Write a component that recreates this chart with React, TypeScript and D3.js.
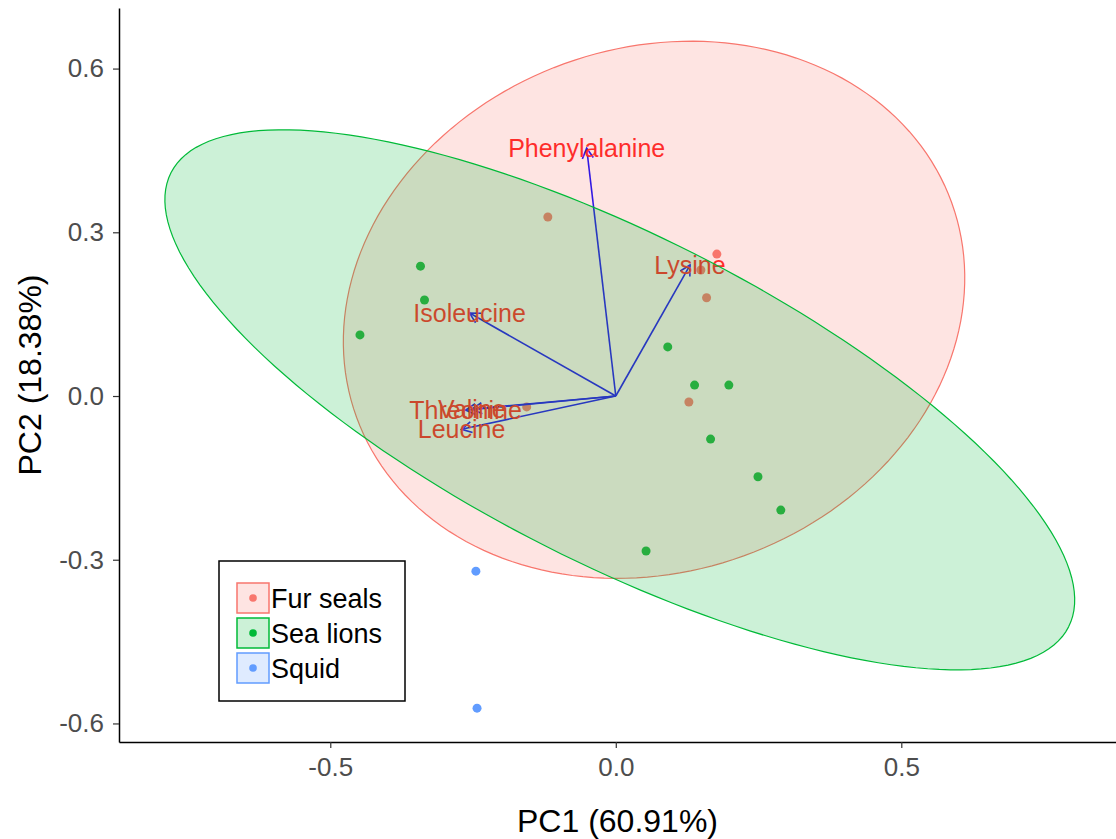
import React, { useEffect, useRef } from "react";
import * as d3 from "d3";

// group scores (PC1, PC2)
const furSealsX = [-0.119, 0.177, 0.149, 0.159, 0.128, -0.156];
const furSealsY = [0.328, 0.26, 0.231, 0.18, -0.011, -0.02];
const seaLionsX = [-0.342, -0.335, -0.448, 0.091, 0.138, 0.198, 0.166, 0.249, 0.289, 0.053];
const seaLionsY = [0.238, 0.176, 0.112, 0.09, 0.02, 0.02, -0.079, -0.148, -0.209, -0.284];
const squidX = [-0.245, -0.243];
const squidY = [-0.321, -0.572];

// variable loadings
const varNames = ["Phenylalanine", "Lysine", "Isoleucine", "Threonine", "Valine", "Leucine"];
const varX = [-0.051, 0.13, -0.256, -0.263, -0.252, -0.27];
const varY = [0.454, 0.24, 0.152, -0.026, -0.024, -0.061];

// ellipses: centre, major semi-axis vector, minor semi-axis vector (data units)
const ellipseGroups = ["Fur seals", "Sea lions"];
const ellipseCenter = [[0.067, 0.158], [0.007, -0.007]];
const ellipseMajor = [[0.521, 0.197], [0.786, -0.416]];
const ellipseMinor = [[0.157, -0.451], [-0.13, -0.268]];

const groups = ["Fur seals", "Sea lions", "Squid"];
const groupColors = ["#F8766D", "#00BA38", "#619CFF"];

const xTicks = [-0.5, 0, 0.5];
const yTicks = [-0.6, -0.3, 0, 0.3, 0.6];

const App = () => {
    const svgRef = useRef(null);

    useEffect(() => {
        const svg = d3.select(svgRef.current);
        svg.selectAll("*").remove();

        const width = 1116, height = 839;
        const margin = { top: 8, right: 0, bottom: 97, left: 119 };
        const font = "'Liberation Sans', Arial, sans-serif";
        const arrowCol = "#0000ff";

        const x = d3.scaleLinear().domain([-0.87, 0.876]).range([margin.left, width - margin.right]);
        const y = d3.scaleLinear().domain([-0.634, 0.711]).range([height - margin.bottom, margin.top]);

        svg.append("defs").append("marker")
            .attr("id", "arr")
            .attr("markerUnits", "userSpaceOnUse")
            .attr("markerWidth", 20).attr("markerHeight", 20)
            .attr("refX", 10).attr("refY", 10)
            .attr("orient", "auto")
            .style("overflow", "visible")
            .append("path")
            .attr("d", "M0,4.5L10,10L0,15.5")
            .attr("fill", "none")
            .attr("stroke", arrowCol)
            .attr("stroke-width", 1.6);

        // points
        const pts = [
            { xs: furSealsX, ys: furSealsY },
            { xs: seaLionsX, ys: seaLionsY },
            { xs: squidX, ys: squidY },
        ];
        pts.forEach((g, gi) => {
            svg.append("g").selectAll("circle")
                .data(g.xs.map((v, i) => [v, g.ys[i]]))
                .enter().append("circle")
                .attr("cx", d => x(d[0]))
                .attr("cy", d => y(d[1]))
                .attr("r", 4.5)
                .attr("fill", groupColors[gi]);
        });

        // arrows
        svg.append("g").selectAll("line")
            .data(varNames.map((n, i) => [varX[i], varY[i]]))
            .enter().append("line")
            .attr("x1", x(0)).attr("y1", y(0))
            .attr("x2", d => x(d[0])).attr("y2", d => y(d[1]))
            .attr("stroke", arrowCol)
            .attr("stroke-width", 1.6)
            .attr("marker-end", "url(#arr)");

        // variable labels
        svg.append("g").selectAll("text")
            .data(varNames.map((n, i) => ({ n, vx: varX[i], vy: varY[i] })))
            .enter().append("text")
            .attr("x", d => x(d.vx))
            .attr("y", d => y(d.vy) + 9)
            .attr("text-anchor", "middle")
            .attr("font-family", font)
            .attr("font-size", 25)
            .attr("fill", "#ff1a1a")
            .text(d => d.n);

        // ellipses drawn on top
        const ts = d3.range(0, 2 * Math.PI + 0.001, Math.PI / 90);
        ellipseGroups.forEach((gname, ei) => {
            const col = groupColors[groups.indexOf(gname)];
            const c = ellipseCenter[ei], a = ellipseMajor[ei], b = ellipseMinor[ei];
            const path = d3.line()(ts.map(t => [
                x(c[0] + a[0] * Math.cos(t) + b[0] * Math.sin(t)),
                y(c[1] + a[1] * Math.cos(t) + b[1] * Math.sin(t)),
            ]));
            svg.append("path")
                .attr("d", path + "Z")
                .attr("fill", col)
                .attr("fill-opacity", 0.2)
                .attr("stroke", col)
                .attr("stroke-width", 1.2);
        });

        // axes
        const fmt = d => d.toFixed(1);
        const xAxis = svg.append("g")
            .attr("transform", `translate(0,${height - margin.bottom})`)
            .call(d3.axisBottom(x).tickValues(xTicks).tickFormat(fmt).tickSize(6).tickPadding(10).tickSizeOuter(0));
        const yAxis = svg.append("g")
            .attr("transform", `translate(${margin.left},0)`)
            .call(d3.axisLeft(y).tickValues(yTicks).tickFormat(fmt).tickSize(6).tickPadding(9).tickSizeOuter(0));
        [xAxis, yAxis].forEach(ax => {
            ax.select(".domain").attr("stroke", "#000").attr("stroke-width", 1.5);
            ax.selectAll(".tick line").attr("stroke", "#333").attr("stroke-width", 1.2);
            ax.selectAll("text")
                .attr("font-family", font)
                .attr("font-size", 26)
                .attr("fill", "#4d4d4d");
        });

        svg.append("text")
            .attr("x", (margin.left + width - margin.right) / 2)
            .attr("y", 832)
            .attr("text-anchor", "middle")
            .attr("font-family", font)
            .attr("font-size", 32)
            .text("PC1 (60.91%)");
        svg.append("text")
            .attr("transform", `translate(41,${(margin.top + height - margin.bottom) / 2}) rotate(-90)`)
            .attr("text-anchor", "middle")
            .attr("font-family", font)
            .attr("font-size", 32)
            .text("PC2 (18.38%)");

        // legend
        const lg = svg.append("g").attr("transform", "translate(219,561)");
        lg.append("rect").attr("width", 186).attr("height", 140)
            .attr("fill", "#fff").attr("stroke", "#000").attr("stroke-width", 1.5);
        groups.forEach((g, i) => {
            const row = lg.append("g").attr("transform", `translate(18,${22 + i * 35})`);
            row.append("rect").attr("width", 32).attr("height", 30)
                .attr("fill", groupColors[i]).attr("fill-opacity", 0.2)
                .attr("stroke", groupColors[i]).attr("stroke-width", 1.5);
            row.append("circle").attr("cx", 16).attr("cy", 15).attr("r", 3.8).attr("fill", groupColors[i]);
            row.append("text").attr("x", 34).attr("y", 25)
                .attr("font-family", font).attr("font-size", 27).attr("fill", "#000")
                .text(g);
        });
    }, []);

    return <svg ref={svgRef} width={1116} height={839} style={{ position: "absolute", left: 0, top: 0 }}></svg>;
};

export default App;
